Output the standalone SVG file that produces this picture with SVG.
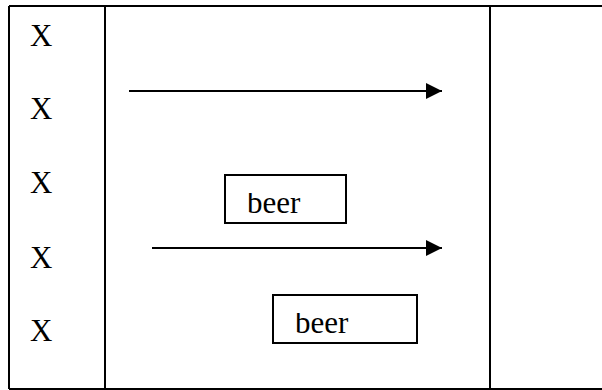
<svg xmlns="http://www.w3.org/2000/svg" width="602" height="390" viewBox="0 0 602 390">
  <style>
    .grid { stroke: #000; stroke-width: 2; fill: none; }
    .lbl { font-family: 'Times New Roman', Tinos, 'Liberation Serif', 'Noto Serif', 'DejaVu Serif', serif; font-size: 31px; fill: #000; }
    .box { fill: #fff; stroke: #000; stroke-width: 2; }
    .conn { stroke: #000; stroke-width: 2; fill: none; marker-end: url(#head); }
  </style>
  <defs>
    <marker id="head" markerUnits="userSpaceOnUse" markerWidth="16" markerHeight="16" refX="16" refY="8" orient="auto">
      <path d="M0,0 L16,8 L0,16 Z" fill="#000"/>
    </marker>
    <clipPath id="clip1"><rect x="225" y="193" width="121" height="30"/></clipPath>
    <clipPath id="clip2"><rect x="273" y="313" width="144" height="30"/></clipPath>
  </defs>
  <rect width="602" height="390" fill="#fff"/>

  <!-- table frame -->
  <g id="table" class="grid">
    <line x1="9" y1="6" x2="602" y2="6"/>
    <line x1="9" y1="389" x2="602" y2="389"/>
    <line x1="9" y1="6" x2="9" y2="389"/>
    <line x1="105" y1="6" x2="105" y2="389"/>
    <line x1="490" y1="6" x2="490" y2="389"/>
  </g>

  <!-- row labels -->
  <g id="labels">
    <text class="lbl" x="30" y="46">X</text>
    <text class="lbl" x="30" y="119">X</text>
    <text class="lbl" x="30" y="193">X</text>
    <text class="lbl" x="30" y="268">X</text>
    <text class="lbl" x="30" y="341">X</text>
  </g>

  <!-- connectors -->
  <g id="connectors">
    <line class="conn" x1="129" y1="91" x2="442" y2="91"/>
    <line class="conn" x1="152" y1="248" x2="442" y2="248"/>
  </g>

  <g id="beer1">
    <rect class="box" x="225" y="175" width="121" height="48"/>
    <text class="lbl" x="247" y="213" clip-path="url(#clip1)">beer</text>
  </g>

  <g id="beer2">
    <rect class="box" x="273" y="295" width="144" height="48"/>
    <text class="lbl" x="295" y="333" clip-path="url(#clip2)">beer</text>
  </g>
</svg>
